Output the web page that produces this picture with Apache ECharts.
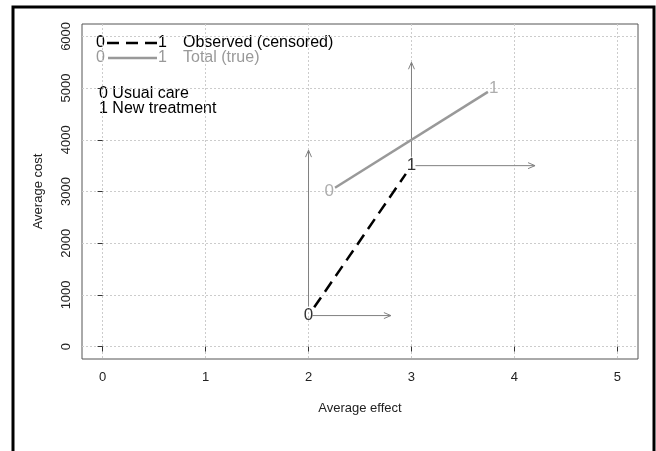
<!DOCTYPE html>
<html>
<head>
<meta charset="utf-8">
<script src="https://cdn.jsdelivr.net/npm/echarts@6/dist/echarts.min.js"></script>
<style>
  html, body { margin: 0; padding: 0; background: #fff; }
  #chart { width: 656px; height: 451px; }
</style>
</head>
<body>
<div id="chart"></div>
<script>
// ticks
const xTicks = [0, 1, 2, 3, 4, 5]
const yTicks = [0, 1000, 2000, 3000, 4000, 5000, 6000]
// groups: 0 usual care, 1 new treatment
const groups = ['0', '1']
const observedEffect = [2, 3]
const observedCost = [600, 3500]
const totalEffect = [2.2, 3.8]
const totalCost = [3000, 5000]
// arrow ends from each observed point
const arrowEffectTo = [2.8, 4.2]
const arrowCostTo = [3800, 5500]

const FONT = '"Liberation Sans", Arial, sans-serif'
const GREY = '#999999'

const chart = echarts.init(document.getElementById('chart'))

// line between two points, cut short at both ends (labels sit on the points)
const segment = (color, width, dash, gap) => (params, api) => {
    const p1 = api.coord([api.value(0), api.value(1)])
    const p2 = api.coord([api.value(2), api.value(3)])
    const dx = p2[0] - p1[0], dy = p2[1] - p1[1]
    const len = Math.sqrt(dx * dx + dy * dy)
    const ux = dx / len, uy = dy / len
    return {
        type: 'line',
        shape: {
            x1: p1[0] + ux * gap, y1: p1[1] + uy * gap,
            x2: p2[0] - ux * gap, y2: p2[1] - uy * gap
        },
        style: { stroke: color, lineWidth: width, lineDash: dash, lineCap: 'butt' }
    }
}

const arrow = (params, api) => {
    const p1 = api.coord([api.value(0), api.value(1)])
    const p2 = api.coord([api.value(2), api.value(3)])
    const dx = p2[0] - p1[0], dy = p2[1] - p1[1]
    const len = Math.sqrt(dx * dx + dy * dy)
    const ux = dx / len, uy = dy / len
    const gap = Math.abs(dx) > Math.abs(dy) ? 4 : 9
    const hl = 7, hw = 3
    const style = { stroke: '#808080', lineWidth: 1, fill: null }
    return {
        type: 'group',
        children: [
            {
                type: 'line',
                shape: { x1: p1[0] + ux * gap, y1: p1[1] + uy * gap, x2: p2[0], y2: p2[1] },
                style
            },
            {
                type: 'polyline',
                shape: {
                    points: [
                        [p2[0] - ux * hl - uy * hw, p2[1] - uy * hl + ux * hw],
                        [p2[0], p2[1]],
                        [p2[0] - ux * hl + uy * hw, p2[1] - uy * hl - ux * hw]
                    ]
                },
                style
            }
        ]
    }
}

const arrowData = []
groups.forEach((g, i) => {
    arrowData.push([observedEffect[i], observedCost[i], observedEffect[i], arrowCostTo[i]])
    arrowData.push([observedEffect[i], observedCost[i], arrowEffectTo[i], observedCost[i]])
})

const pointLabels = (xs, ys, color) => ({
    type: 'scatter',
    symbolSize: 0,
    silent: true,
    z: 5,
    data: groups.map((g, i) => [xs[i], ys[i], g]),
    label: {
        show: true,
        position: 'inside',
        formatter: p => p.data[2],
        color: color,
        fontSize: 17,
        fontFamily: FONT
    }
})

const legendText = (x, y, text, color) => ({
    type: 'text', x: x, y: y,
    style: { text: text, fill: color, font: '16px ' + FONT, textVerticalAlign: 'middle' }
})

chart.setOption({
    animation: false,
    grid: {
        left: 82, right: 18, top: 24, bottom: 92,
        show: true, borderColor: '#555', borderWidth: 1, backgroundColor: 'transparent'
    },
    xAxis: {
        type: 'value',
        min: -0.2,
        max: 5.2,
        name: 'Average effect',
        nameLocation: 'middle',
        nameGap: 43,
        nameTextStyle: { color: '#222', fontSize: 13, fontFamily: FONT },
        axisLine: { show: false },
        axisTick: { show: true, length: 5, customValues: xTicks, lineStyle: { color: '#333' } },
        axisLabel: { customValues: xTicks, margin: 12, color: '#222', fontSize: 13, fontFamily: FONT },
        splitLine: { show: true, lineStyle: { color: '#cccccc', type: [2, 2] } }
    },
    yAxis: {
        type: 'value',
        min: -240,
        max: 6240,
        name: 'Average cost',
        nameLocation: 'middle',
        nameGap: 37,
        nameTextStyle: { color: '#222', fontSize: 13, fontFamily: FONT },
        axisLine: { show: false },
        axisTick: { show: true, length: 5, customValues: yTicks, lineStyle: { color: '#333' } },
        axisLabel: {
            customValues: yTicks, rotate: 90, margin: 9, color: '#222', fontSize: 13, fontFamily: FONT,
            formatter: v => String(v)
        },
        splitLine: { show: true, lineStyle: { color: '#cccccc', type: [2, 2] } }
    },
    graphic: [
        {
            type: 'rect',
            shape: { x: 13, y: 7, width: 641, height: 470 },
            style: { stroke: '#000', lineWidth: 3, fill: null },
            silent: true
        },
        legendText(96, 43, '0', '#000'),
        {
            type: 'line', shape: { x1: 107, y1: 43, x2: 158, y2: 43 },
            style: { stroke: '#000', lineWidth: 2.5, lineDash: [12, 7] }
        },
        legendText(158, 43, '1', '#000'),
        legendText(183, 43, 'Observed (censored)', '#000'),
        legendText(96, 58, '0', GREY),
        {
            type: 'line', shape: { x1: 108, y1: 58, x2: 157, y2: 58 },
            style: { stroke: GREY, lineWidth: 2.5 }
        },
        legendText(158, 58, '1', GREY),
        legendText(183, 58, 'Total (true)', GREY),
        legendText(99, 94, '0 Usual care', '#000'),
        legendText(99, 109, '1 New treatment', '#000')
    ],
    series: [
        {
            type: 'custom',
            renderItem: arrow,
            silent: true,
            data: arrowData
        },
        {
            type: 'custom',
            renderItem: segment(GREY, 2.5, null, 7),
            silent: true,
            data: [[totalEffect[0], totalCost[0], totalEffect[1], totalCost[1]]]
        },
        {
            type: 'custom',
            renderItem: segment('#000', 2.5, [12, 7], 10),
            silent: true,
            data: [[observedEffect[0], observedCost[0], observedEffect[1], observedCost[1]]]
        },
        pointLabels(totalEffect, totalCost, GREY),
        pointLabels(observedEffect, observedCost, '#000')
    ]
})
</script>
</body>
</html>
